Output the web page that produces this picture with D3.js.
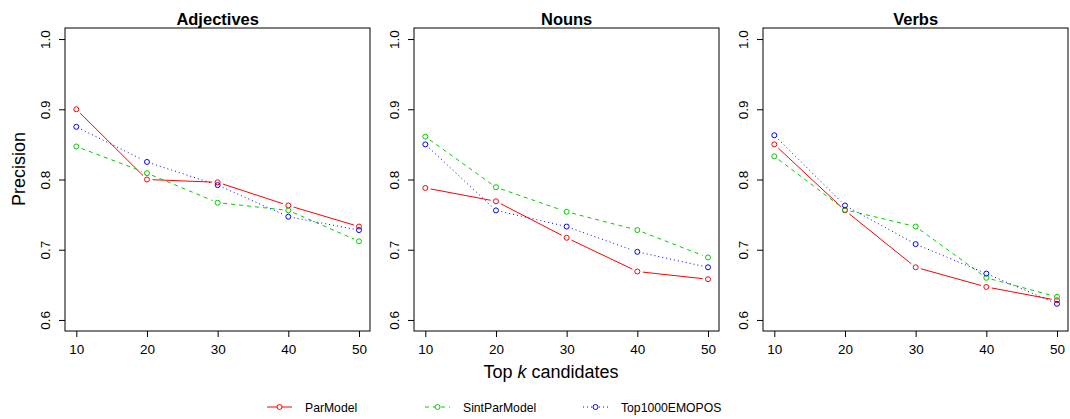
<!DOCTYPE html>
<html>
<head>
<meta charset="utf-8">
<script src="https://cdn.jsdelivr.net/npm/d3@7"></script>
<style>
  html, body { margin: 0; padding: 0; background: #fff; }
  svg { display: block; font-family: "Liberation Sans", Arial, Helvetica, sans-serif; }
</style>
</head>
<body>
<svg id="chart" width="1070" height="419"></svg>
<script>
// ---------- data ----------
const kValues = [10, 20, 30, 40, 50];
const panels = ["Adjectives", "Nouns", "Verbs"];
const seriesNames = ["ParModel", "SintParModel", "Top1000EMOPOS"];

const adjParModel      = [0.900, 0.800, 0.796, 0.763, 0.733];
const adjSintParModel  = [0.847, 0.809, 0.767, 0.756, 0.712];
const adjTop1000       = [0.875, 0.825, 0.792, 0.747, 0.728];

const nounParModel     = [0.788, 0.769, 0.717, 0.669, 0.658];
const nounSintParModel = [0.861, 0.789, 0.754, 0.728, 0.689];
const nounTop1000      = [0.850, 0.756, 0.733, 0.697, 0.675];

const verbParModel     = [0.850, 0.756, 0.675, 0.647, 0.628];
const verbSintParModel = [0.833, 0.757, 0.733, 0.660, 0.633];
const verbTop1000      = [0.863, 0.763, 0.708, 0.666, 0.623];

const yTicks = [0.6, 0.7, 0.8, 0.9, 1.0];

const panelData = [
  [adjParModel, adjSintParModel, adjTop1000],
  [nounParModel, nounSintParModel, nounTop1000],
  [verbParModel, verbSintParModel, verbTop1000]
];

// ---------- styles ----------
const colors = ["#FF0000", "#00CD00", "#0000FF"];
const dashes = [null, "4,4", "1,3"];

const svg = d3.select("#chart");

const boxLefts = [65, 414, 763];
const boxW = 305.3;
const boxTop = 27.8, boxBottom = 331.2;
const gap = 5.5, r = 2.5;

const y = d3.scaleLinear().domain([0.584, 1.016]).range([boxBottom, boxTop]);

panels.forEach((name, pi) => {
  const left = boxLefts[pi];
  const x = d3.scaleLinear().domain([8.4, 51.6]).range([left, left + boxW]);
  const g = svg.append("g");

  // title
  g.append("text")
    .attr("x", left + boxW / 2).attr("y", 25)
    .attr("text-anchor", "middle")
    .attr("font-size", "16.5px").attr("font-weight", "bold")
    .attr("fill", "#000")
    .text(name);

  // y axis
  const ya = g.append("g").attr("transform", `translate(${left},0)`)
    .call(d3.axisLeft(y).tickValues(yTicks).tickSize(6).tickPadding(0).tickFormat(d3.format(".1f")));
  ya.select(".domain").remove();
  ya.selectAll(".tick line").attr("stroke", "#000");
  ya.selectAll(".tick text")
    .attr("x", null).attr("dy", null)
    .attr("text-anchor", "middle")
    .attr("font-size", "13.5px")
    .attr("fill", "#000")
    .attr("font-family", "Liberation Sans, Arial, sans-serif")
    .attr("transform", "translate(-15,0) rotate(-90)");

  // x axis
  const xa = g.append("g").attr("transform", `translate(0,${Math.round(boxBottom)})`)
    .call(d3.axisBottom(x).tickValues(kValues).tickSize(6).tickPadding(0).tickFormat(d3.format("d")));
  xa.select(".domain").remove();
  xa.selectAll(".tick line").attr("stroke", "#000");
  xa.selectAll(".tick text")
    .attr("dy", null).attr("y", 23)
    .attr("font-size", "13.5px")
    .attr("fill", "#000")
    .attr("font-family", "Liberation Sans, Arial, sans-serif");

  // series
  panelData[pi].forEach((vals, si) => {
    const pts = kValues.map((k, i) => [x(k), y(vals[i])]);
    const segs = [];
    for (let i = 0; i < pts.length - 1; i++) {
      const [x0, y0] = pts[i], [x1, y1] = pts[i + 1];
      const dx = x1 - x0, dy = y1 - y0, L = Math.hypot(dx, dy);
      if (L > 2 * gap) {
        segs.push([x0 + dx / L * gap, y0 + dy / L * gap, x1 - dx / L * gap, y1 - dy / L * gap]);
      }
    }
    g.append("g").selectAll("line").data(segs).join("line")
      .attr("x1", d => d[0]).attr("y1", d => d[1])
      .attr("x2", d => d[2]).attr("y2", d => d[3])
      .attr("stroke", colors[si]).attr("stroke-width", 1)
      .attr("stroke-dasharray", dashes[si]);
    g.append("g").selectAll("circle").data(pts).join("circle")
      .attr("cx", d => d[0]).attr("cy", d => d[1]).attr("r", r)
      .attr("fill", "none").attr("stroke", colors[si]).attr("stroke-width", 1);
  });

  // box
  g.append("rect")
    .attr("x", left).attr("y", Math.round(boxTop))
    .attr("width", Math.round(boxW)).attr("height", Math.round(boxBottom) - Math.round(boxTop))
    .attr("fill", "none").attr("stroke", "#000").attr("stroke-width", 1);
});

// axis labels
svg.append("text")
  .attr("transform", "translate(25,169) rotate(-90)")
  .attr("text-anchor", "middle").attr("font-size", "18px").attr("fill", "#000")
  .text("Precision");

const xl = svg.append("text")
  .attr("x", 551).attr("y", 378)
  .attr("text-anchor", "middle").attr("font-size", "18px").attr("fill", "#000");
xl.append("tspan").text("Top ");
xl.append("tspan").attr("font-style", "italic").text("k");
xl.append("tspan").text(" candidates");

// legend
const legX0 = 267, legStep = 158, legY = 407;
const leg = svg.append("g").selectAll("g").data(seriesNames).join("g")
  .attr("transform", (d, i) => `translate(${legX0 + i * legStep},${legY})`);
leg.append("line")
  .attr("x1", 0).attr("x2", 25).attr("y1", 0).attr("y2", 0)
  .attr("stroke", (d, i) => colors[i]).attr("stroke-width", 1)
  .attr("stroke-dasharray", (d, i) => dashes[i]);
leg.append("circle")
  .attr("cx", 12.5).attr("cy", 0).attr("r", r)
  .attr("fill", "#fff").attr("stroke", (d, i) => colors[i]);
leg.append("text")
  .attr("x", 38).attr("y", 4.5)
  .attr("font-size", "12.2px").attr("fill", "#000")
  .text(d => d);
</script>
</body>
</html>
